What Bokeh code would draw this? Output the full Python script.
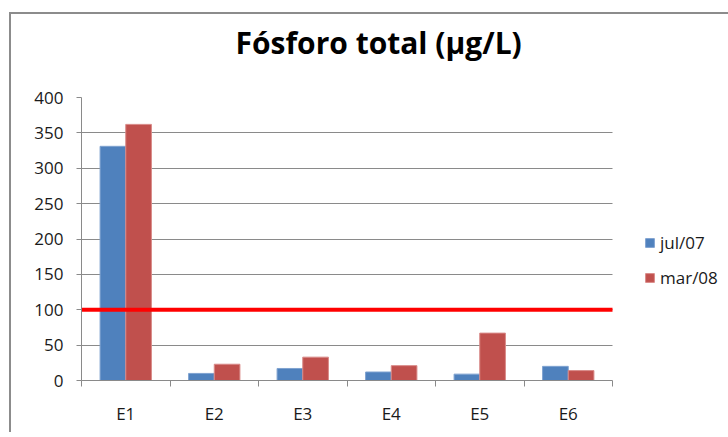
from bokeh.plotting import figure
from bokeh.models import (Range1d, FixedTicker, Legend, LegendItem,
                          ColumnDataSource, Title, BoxAnnotation)
from bokeh.embed import file_html
from bokeh.resources import INLINE

# ---- data ----
categories = ["E1", "E2", "E3", "E4", "E5", "E6"]
jul07 = [331, 10, 17, 12, 9, 20]
mar08 = [362, 23, 33, 21, 67, 14]
series_names = ["jul/07", "mar/08"]
limit_value = 100
y_ticks = [0, 50, 100, 150, 200, 250, 300, 350, 400]
title_text = "Fósforo total (µg/L)"

FONT = "Open Sans"
BLUE = "#4F81BD"
RED = "#C0504D"
GRID = "#8a8a8a"

n = len(categories)
centers = [i + 0.5 for i in range(n)]
off = 0.145
bw = 0.29

W, H = 722, 420
ML, MB, MT = 70, 54, 83
frame_w = W - ML
x_end = n * frame_w / 531.0   # categories occupy 531 px, the rest hosts the legend

src = ColumnDataSource(dict(
    x_jul=[c - off for c in centers],
    x_mar=[c + off for c in centers],
    jul=jul07,
    mar=mar08,
))

p = figure(width=W, height=H, output_backend="svg", toolbar_location=None,
           x_range=Range1d(0, x_end), y_range=Range1d(0, 400),
           min_border_left=ML, min_border_right=0, min_border_top=MT,
           min_border_bottom=MB, title=None)
p.styles = {"border-left": "2px solid #8c8c8c", "border-top": "2px solid #8c8c8c",
            "margin-left": "9px", "margin-top": "12px"}
p.outline_line_color = None
p.background_fill_color = "white"
p.border_fill_color = "white"

# spacer title (closest to frame), then real title
p.add_layout(Title(text=" ", text_font_size="10px", standoff=22), "above")
p.add_layout(Title(text=title_text, text_font=FONT, text_font_style="bold",
                   text_font_size="30px", text_color="black", align="left",
                   offset=154, standoff=0), "above")

r1 = p.vbar(x="x_jul", top="jul", width=bw, source=src, fill_color=BLUE,
            line_color="#7fa2d0", line_width=1)
r2 = p.vbar(x="x_mar", top="mar", width=bw, source=src, fill_color=RED,
            line_color="#d98a88", line_width=1)

# white box hiding the grid lines right of the category area
p.add_layout(BoxAnnotation(left=n, fill_color="white", fill_alpha=1,
                           line_color=None, level="underlay"))

# threshold line
p.line(x=[0, n], y=[limit_value, limit_value], line_color="#FF0000", line_width=4)

# y axis
p.yaxis.ticker = FixedTicker(ticks=y_ticks)
p.yaxis.axis_line_color = GRID
p.yaxis.major_tick_line_color = GRID
p.yaxis.major_tick_out = 5
p.yaxis.major_tick_in = 0
p.yaxis.minor_tick_line_color = None
p.yaxis.major_label_text_font = FONT
p.yaxis.major_label_text_font_size = "17px"
p.yaxis.major_label_text_color = "#1a1a1a"
p.yaxis.major_label_standoff = 13

# x axis
p.xaxis.ticker = FixedTicker(ticks=centers, minor_ticks=list(range(n + 1)))
p.xaxis.bounds = (0, n)
p.xaxis.major_label_overrides = {c: lab for c, lab in zip(centers, categories)}
p.xaxis.axis_line_color = GRID
p.xaxis.major_tick_line_color = None
p.xaxis.minor_tick_line_color = GRID
p.xaxis.minor_tick_out = 6
p.xaxis.minor_tick_in = 0
p.xaxis.major_label_text_font = FONT
p.xaxis.major_label_text_font_size = "17px"
p.xaxis.major_label_text_color = "#1a1a1a"
p.xaxis.major_label_standoff = 15

p.xgrid.grid_line_color = None
p.ygrid.grid_line_color = GRID
p.ygrid.grid_line_width = 1

# legend inside the (extended) frame
legend = Legend(items=[LegendItem(label=series_names[0], renderers=[r1]),
                       LegendItem(label=series_names[1], renderers=[r2])],
                location=(563, 91), orientation="vertical")
legend.border_line_color = None
legend.background_fill_alpha = 0
legend.padding = 0
legend.margin = 0
legend.glyph_width = 11
legend.glyph_height = 11
legend.label_standoff = 5
legend.spacing = 12
legend.label_text_font = FONT
legend.label_text_font_size = "17px"
legend.label_text_color = "#1a1a1a"
p.add_layout(legend)

open("out.html", "w").write(file_html(p, INLINE))
